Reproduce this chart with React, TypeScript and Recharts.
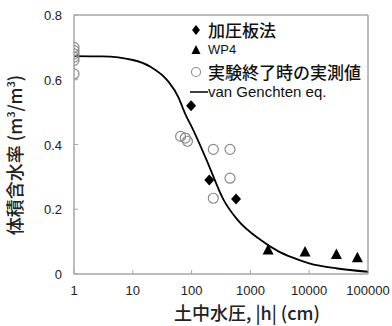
import React from 'react';
import {
  ComposedChart,
  Line,
  Scatter,
  XAxis,
  YAxis,
  ReferenceLine,
} from 'recharts';

// soil water pressure |h| (cm) vs volumetric water content (m3/m3)
const plateH = [98, 200, 570];
const plateTheta = [0.52, 0.29, 0.232];

const wp4H = [2000, 8500, 29000, 66000];
const wp4Theta = [0.074, 0.068, 0.06, 0.05];

const measuredH = [1, 1, 1, 1, 1, 1, 65, 78, 85, 234, 450, 450, 234];
const measuredTheta = [0.7, 0.69, 0.68, 0.67, 0.66, 0.618, 0.425, 0.42, 0.41, 0.385, 0.385, 0.296, 0.234];

const curveH = [1, 3, 10, 20, 40, 60, 70, 80, 100, 180, 350, 600, 1500, 3000, 5000, 10000, 30000, 100000];
const curveTheta = [0.673, 0.672, 0.661, 0.64, 0.595, 0.545, 0.515, 0.49, 0.455, 0.352, 0.229, 0.168, 0.105, 0.07, 0.052, 0.033, 0.017, 0.007];

const xTicks = [1, 10, 100, 1000, 10000, 100000];
const yTicks = [0, 0.2, 0.4, 0.6, 0.8];

const toRows = (hs: number[], ts: number[]) => hs.map((h, i) => ({ h, theta: ts[i] }));

const plate = toRows(plateH, plateTheta);
const wp4 = toRows(wp4H, wp4Theta);
const measured = toRows(measuredH, measuredTheta);
const curve = toRows(curveH, curveTheta);

const FRAME = '#a6a6a6';
const TEXT = '#222';
const JP = '"Noto Sans CJK JP", "Noto Sans", sans-serif';
const NUM = '"Liberation Sans", Arial, sans-serif';

const DiamondShape = (props: any) => {
  const { cx, cy } = props;
  return <polygon points={`${cx},${cy - 5.5} ${cx + 5},${cy} ${cx},${cy + 5.5} ${cx - 5},${cy}`} fill="#000" />;
};

const TriangleShape = (props: any) => {
  const { cx, cy } = props;
  return <polygon points={`${cx},${cy - 6} ${cx + 5.5},${cy + 4.5} ${cx - 5.5},${cy + 4.5}`} fill="#000" />;
};

const CircleShape = (props: any) => {
  const { cx, cy } = props;
  return <circle cx={cx} cy={cy} r={5} fill="none" stroke="#8a8a8a" strokeWidth={1.2} />;
};

const XTick = (props: any) => {
  const { x, y, payload } = props;
  return (
    <g>
      <line x1={x} y1={y} x2={x} y2={y - 4} stroke={FRAME} />
      <text x={x} y={y + 21} textAnchor="middle" fontSize={13} fontFamily={NUM} fill={TEXT}>
        {payload.value}
      </text>
    </g>
  );
};

const YTick = (props: any) => {
  const { x, y, payload } = props;
  return (
    <g>
      <line x1={x} y1={y} x2={x + 4} y2={y} stroke={FRAME} />
      <text x={x - 12} y={y + 5} textAnchor="end" fontSize={13} fontFamily={NUM} fill={TEXT}>
        {payload.value}
      </text>
    </g>
  );
};

const legendRows = [
  { label: '加圧板法', icon: 'diamond', size: 17, font: JP, top: 20 },
  { label: 'WP4', icon: 'triangle', size: 13, font: NUM, top: 40 },
  { label: '実験終了時の実測値', icon: 'circle', size: 17, font: JP, top: 62 },
  { label: 'van Genchten eq.', icon: 'line', size: 15, font: NUM, top: 82 },
];

const LegendIcon = ({ kind }: { kind: string }) => {
  if (kind === 'diamond') return <polygon points="8,5 12,10 8,15 4,10" fill="#000" />;
  if (kind === 'triangle') return <polygon points="8,5 12.5,14 3.5,14" fill="#000" />;
  if (kind === 'circle') return <circle cx={8} cy={10} r={4.5} fill="none" stroke="#8a8a8a" strokeWidth={1.1} />;
  return <line x1={2} y1={10} x2={20} y2={10} stroke="#000" strokeWidth={1.5} />;
};

const ChartLegend = () => (
  <div style={{ position: 'absolute', left: 188, top: 0, width: 200, height: 110, pointerEvents: 'none' }}>
    {legendRows.map((row) => (
      <div
        key={row.label}
        style={{ position: 'absolute', left: 0, top: row.top, height: 20, display: 'flex', alignItems: 'center' }}
      >
        <svg width={20} height={20} style={{ display: 'block' }}>
          <LegendIcon kind={row.icon} />
        </svg>
        <span
          style={{
            fontFamily: row.font,
            fontSize: row.size,
            fontWeight: 500,
            color: '#111',
            lineHeight: '20px',
            whiteSpace: 'nowrap',
          }}
        >
          {row.label}
        </span>
      </div>
    ))}
  </div>
);

export default function App() {
  return (
    <div style={{ position: 'absolute', left: 0, top: 0, width: 392, height: 326, background: '#fff' }}>
      <ComposedChart width={392} height={326} margin={{ top: 15, right: 24, bottom: 0, left: 0 }}>
        <XAxis
          dataKey="h"
          type="number"
          scale="log"
          domain={[1, 100000]}
          ticks={xTicks}
          allowDataOverflow
          height={52}
          tickSize={0}
          tickMargin={0}
          tickLine={false}
          axisLine={{ stroke: FRAME, strokeWidth: 1.5 }}
          tick={<XTick />}
        />
        <YAxis
          dataKey="theta"
          type="number"
          domain={[0, 0.8]}
          ticks={yTicks}
          width={74}
          tickSize={0}
          tickMargin={0}
          tickLine={false}
          axisLine={{ stroke: FRAME, strokeWidth: 1.5 }}
          tick={<YTick />}
        />
        <ReferenceLine y={0.8} stroke={FRAME} strokeWidth={1.5} />
        <ReferenceLine x={100000} stroke={FRAME} strokeWidth={1.5} />
        <Line
          data={curve}
          dataKey="theta"
          type="monotone"
          stroke="#000"
          strokeWidth={1.8}
          dot={false}
          isAnimationActive={false}
        />
        <Scatter data={measured} dataKey="theta" shape={<CircleShape />} isAnimationActive={false} />
        <Scatter data={plate} dataKey="theta" shape={<DiamondShape />} isAnimationActive={false} />
        <Scatter data={wp4} dataKey="theta" shape={<TriangleShape />} isAnimationActive={false} />
      </ComposedChart>
      <ChartLegend />
      <svg width={392} height={326} style={{ position: 'absolute', left: 0, top: 0, pointerEvents: 'none' }}>
        <text
          transform="translate(22,155) rotate(-90)"
          textAnchor="middle"
          fontSize={18}
          fontWeight={500}
          fontFamily={JP}
          fill={TEXT}
        >
          体積含水率 (m<tspan dy={-7} fontSize={11}>3</tspan>
          <tspan dy={7}>/m</tspan>
          <tspan dy={-7} fontSize={11}>3</tspan>
          <tspan dy={7}>)</tspan>
        </text>
        <text x={247} y={320} textAnchor="middle" fontSize={18} fontWeight={500} fontFamily={JP} fill={TEXT}>
          土中水圧, |h| (cm)
        </text>
      </svg>
    </div>
  );
}
